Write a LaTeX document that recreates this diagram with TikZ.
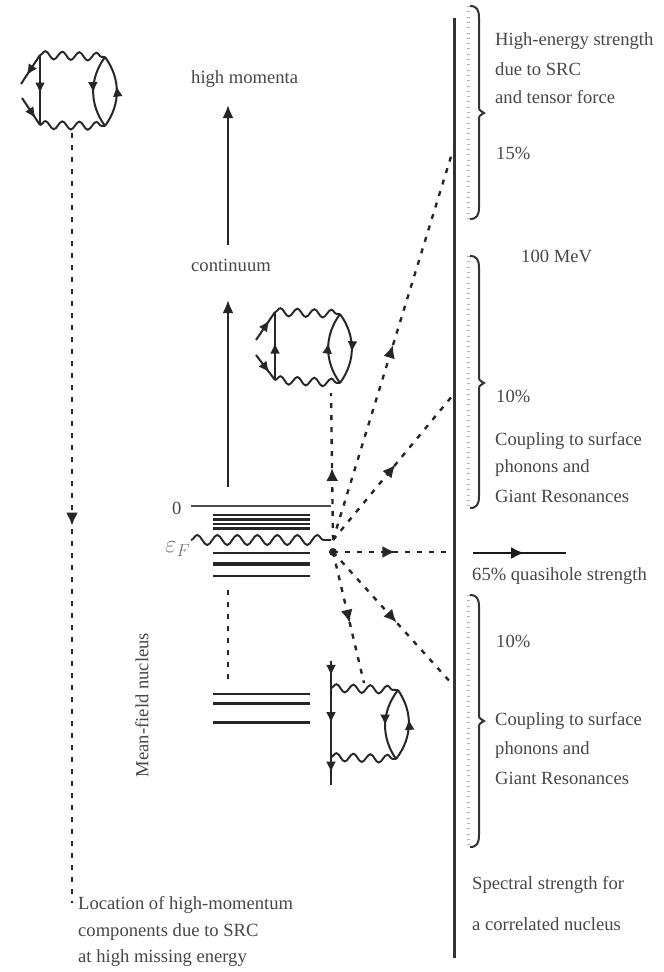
\documentclass[tikz,border=0pt]{standalone}
\usepackage{fontspec}
\setmainfont{Liberation Serif}
\usepackage{tikz}
\usetikzlibrary{arrows.meta,decorations.pathmorphing,decorations.markings}
\tikzset{
  lab/.style={anchor=west,inner sep=0pt,text=black!72,font=\fontsize{18.6}{20}\selectfont},
  tipmark/.style={postaction={decorate},decoration={markings,mark=at position #1 with {\arrow{Latex[length=13pt,width=12pt]}}}},
  smalltip/.style={postaction={decorate},decoration={markings,mark=at position #1 with {\arrow{Latex[length=11pt,width=10pt]}}}},
  dashline/.style={line width=2.4pt,dash pattern=on 5pt off 7pt,black!85},
  solidline/.style={line width=2.2pt,black!85},
  fermion/.style={line width=2pt,black!85},
  boson/.style={line width=1.9pt,black!85,decorate,decoration={snake,segment length=17pt,amplitude=4pt}},
  level/.style={line width=2.6pt,black!70},
  tickcol/.style={line width=3pt,black!30,dash pattern=on 0.8pt off 4.5pt},
  bracket/.style={line width=2pt,black!80}
}
\newcommand{\strengthbrace}[3]{%
\draw[tickcol] (468,#1) -- (468,#3);
\draw[bracket] (470,#1) .. controls (477,#1) and (479,#1+4) .. (479,#1+12) -- (479,#2-7)
  .. controls (479,#2-3) .. (484,#2) .. controls (479,#2+3) .. (479,#2+7) -- (479,#3-12)
  .. controls (479,#3-4) and (477,#3) .. (470,#3);
}
\begin{document}
\begin{tikzpicture}[x=1pt,y=-1pt]
\useasboundingbox (0,0) rectangle (664,972);
% levels
\coordinate (zeroL) at (191,506);
\coordinate (zeroR) at (331,506);
\draw[level] (zeroL) -- (zeroR);
\foreach \y/\w in {515/2.8,519.5/2.8,524/2.8,528/3,553/2.6,564/4,576/2.6,694/2,703.5/3,722/3}
  \draw[line width=\w pt,black!85] (213,\y) -- (310,\y);
\coordinate (fermiL) at (191,540);
\coordinate (fermiR) at (331,540);
\draw[boson,decoration={segment length=20pt,amplitude=5pt}] (fermiL) -- (fermiR);
\node[lab] (zero) at (172,508) {0};
\node[lab,text=black!55,font=\fontsize{24}{24}\selectfont] (efermi) at (165,549) {$\varepsilon_F$};
\node[lab,rotate=90,anchor=center] (mean) at (142,705) {Mean-field nucleus};
% solid arrows
\node[lab] (cont) at (191,265) {continuum};
\node[lab] (high) at (191,79) {high momenta};
\coordinate (a0) at (228,487);
\coordinate (a1) at (228,300);
\coordinate (a2) at (228,245);
\coordinate (a3) at (228,105);
\draw[solidline,-{Latex[length=13pt,width=11pt]}] (a0) -- (a1);
\draw[solidline,-{Latex[length=13pt,width=11pt]}] (a2) -- (a3);
\coordinate (g0) at (228,590);
\coordinate (g1) at (228,685);
\draw[dashline] (g0) -- (g1);
% right hand side
\coordinate (wallT) at (454,18);
\coordinate (wallB) at (454,958);
\draw[line width=3pt,black!80] (wallT) -- (wallB);
\strengthbrace{6}{113}{219}
\strengthbrace{256}{383}{508}
\strengthbrace{595}{721}{847}
\node[lab] (t1) at (495,41) {High-energy strength};
\node[lab] (t2) at (495,69) {due to SRC};
\node[lab] (t3) at (495,97) {and tensor force};
\node[lab] (t4) at (496,153) {15\%};
\node[lab] (t5) at (521,256) {100 MeV};
\node[lab] (t6) at (496,396) {10\%};
\node[lab] (t7) at (495,441) {Coupling to surface};
\node[lab] (t8) at (495,468) {phonons and};
\node[lab] (t9) at (495,496) {Giant Resonances};
\node[lab] (t10) at (472,576) {65\% quasihole strength};
\node[lab] (t11) at (496,641) {10\%};
\node[lab] (t12) at (495,721) {Coupling to surface};
\node[lab] (t13) at (495,750) {phonons and};
\node[lab] (t14) at (495,778) {Giant Resonances};
\node[lab] (t15) at (472,885) {Spectral strength for};
\node[lab] (t16) at (472,924) {a correlated nucleus};
\node[lab] (t17) at (78,905) {Location of high-momentum};
\node[lab] (t18) at (78,932) {components due to SRC};
\node[lab] (t19) at (78,958) {at high missing energy};
% dashed lines from the fermi level
\coordinate (vtx) at (333,552);
\coordinate (upv) at (333,540);
\coordinate (hit1) at (453,150);
\coordinate (hit2) at (453,395);
\coordinate (hit3) at (453,552);
\coordinate (hit4) at (453,685);
\coordinate (qhL) at (473,553);
\coordinate (qhR) at (566,553);
\coordinate (midtop) at (331,393);
\coordinate (botv) at (364,683);
\draw[dashline,tipmark=0.5] (upv) -- (hit1);
\draw[dashline,tipmark=0.52] (upv) -- (hit2);
\draw[dashline,tipmark=0.52] (vtx) -- (hit3);
\draw[dashline,tipmark=0.53] (vtx) -- (hit4);
\draw[dashline,tipmark=0.54] (vtx) -- (botv);
\draw[dashline,tipmark=0.49] (upv) -- (midtop);
\fill[black!85] (vtx) circle (4pt);
\draw[line width=2.4pt,black!90,tipmark=0.55] (qhL) -- (qhR);
% upper left diagram
\coordinate (a1T) at (40,55);
\coordinate (a1B) at (40,125);
\coordinate (a1TR) at (105,57);
\coordinate (a1BR) at (105,126);
\coordinate (a1in) at (21,84);
\coordinate (a1out) at (22,98);
\coordinate (a1far) at (72,133);
\coordinate (a1end) at (72,903);
\draw[boson] (a1T) -- (a1TR);
\draw[boson] (a1B) -- (a1BR);
\draw[fermion,smalltip=0.55] (a1T) -- (a1B);
\draw[fermion,smalltip=0.52] (a1TR) to[bend right=36] (a1BR);
\draw[fermion,smalltip=0.58] (a1BR) to[bend right=36] (a1TR);
\draw[fermion,smalltip=0.7] (a1T) -- (a1in);
\draw[fermion,smalltip=0.75] (a1out) -- (a1B);
\draw[dashline,tipmark=0.51] (a1far) -- (a1end);
% middle diagram
\coordinate (b1T) at (275,312);
\coordinate (b1B) at (275,380);
\coordinate (b1TR) at (340,314);
\coordinate (b1BR) at (340,383);
\coordinate (b1in) at (256,340);
\coordinate (b1out) at (256,355);
\draw[boson] (b1T) -- (b1TR);
\draw[boson] (b1B) -- (b1BR);
\draw[fermion,smalltip=0.55] (b1B) -- (b1T);
\draw[fermion,smalltip=0.58] (b1BR) to[bend left=36] (b1TR);
\draw[fermion,smalltip=0.55] (b1TR) to[bend left=36] (b1BR);
\draw[fermion,smalltip=0.7] (b1in) -- (b1T);
\draw[fermion,smalltip=0.7] (b1out) -- (b1B);
% lower diagram
\coordinate (c1T) at (331,661);
\coordinate (c1B) at (331,785);
\coordinate (c1a) at (331,688);
\coordinate (c1b) at (331,757);
\coordinate (c1TR) at (398,690);
\coordinate (c1BR) at (396,759);
\draw[boson] (c1a) -- (c1TR);
\draw[boson] (c1b) -- (c1BR);
\draw[fermion,smalltip=0.12] (c1T) -- (c1B);
\draw[fermion,smalltip=0.5] (c1T) -- (c1B);
\draw[fermion,smalltip=0.9] (c1T) -- (c1B);
\draw[fermion,smalltip=0.52] (c1TR) to[bend right=36] (c1BR);
\draw[fermion,smalltip=0.58] (c1BR) to[bend right=36] (c1TR);
\end{tikzpicture}
\end{document}
